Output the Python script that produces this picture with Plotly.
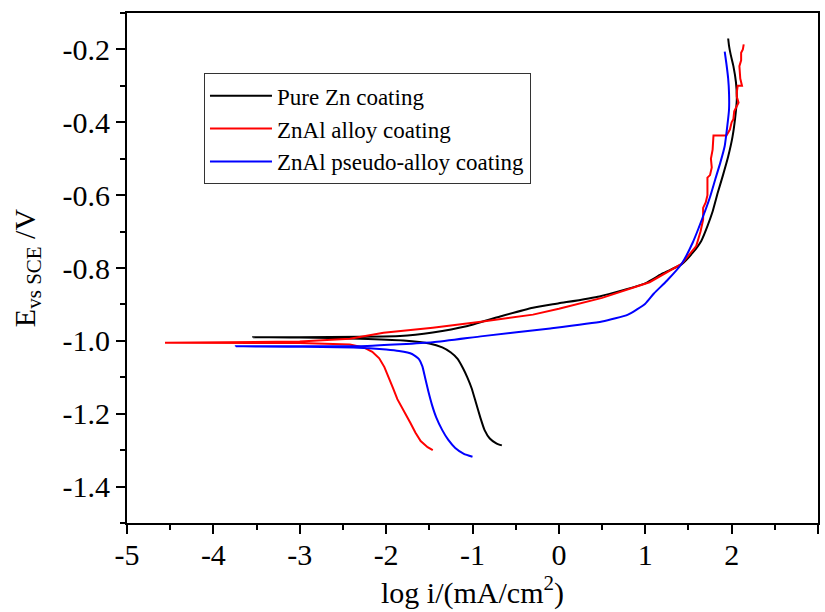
import plotly.graph_objects as go

# ---------------- data ----------------
zn_x = [-0.66, -0.72, -0.80, -0.86, -0.91, -0.96, -1.01, -1.06, -1.11, -1.17, -1.25, -1.35, -1.50, -1.80, -2.30, -3.00, -3.54,
        -3.00, -2.30, -1.84, -1.46, -1.07, -0.68, -0.30, 0.00, 0.47, 1.00, 1.20, 1.42, 1.55, 1.65,
        1.72, 1.78, 1.84, 1.90, 1.96, 2.01, 2.04, 2.06, 2.05, 2.02, 1.99, 1.97, 1.96]
zn_y = [-1.287, -1.282, -1.268, -1.245, -1.210, -1.170, -1.130, -1.100, -1.075, -1.050, -1.032, -1.018, -1.007, -0.999, -0.994, -0.991, -0.990,
        -0.990, -0.989, -0.987, -0.977, -0.960, -0.933, -0.909, -0.897, -0.878, -0.842, -0.815, -0.790, -0.758, -0.725,
        -0.685, -0.645, -0.593, -0.545, -0.494, -0.440, -0.390, -0.337, -0.290, -0.245, -0.215, -0.190, -0.170]

al_x = [-1.46, -1.52, -1.60, -1.66, -1.72, -1.80, -1.87, -1.92, -1.97, -2.02, -2.08, -2.16, -2.26, -2.42, -3.00, -4.56,
        -3.00, -2.42, -2.03, -1.46, -0.88, -0.30, 0.00, 0.50, 1.05, 1.42, 1.59, 1.64, 1.67, 1.67, 1.70, 1.72,
        1.72, 1.75, 1.77, 1.76, 1.78, 1.79, 1.79, 1.94, 1.96, 1.98, 2.00, 2.02, 2.03, 2.04, 2.08, 2.06,
        2.06, 2.07, 2.12, 2.10, 2.09, 2.11, 2.11, 2.13, 2.14]
al_y = [-1.300, -1.292, -1.275, -1.252, -1.225, -1.190, -1.160, -1.130, -1.100, -1.072, -1.048, -1.030, -1.018, -1.010, -1.006, -1.005,
        -1.002, -0.994, -0.978, -0.964, -0.947, -0.928, -0.912, -0.882, -0.839, -0.789, -0.740, -0.700, -0.667, -0.635, -0.620, -0.600,
        -0.552, -0.545, -0.524, -0.500, -0.475, -0.447, -0.436, -0.436, -0.428, -0.420, -0.400, -0.392, -0.370, -0.365, -0.346, -0.330,
        -0.318, -0.300, -0.300, -0.280, -0.246, -0.230, -0.209, -0.200, -0.186]

ps_x = [-1.00, -1.10, -1.20, -1.28, -1.35, -1.42, -1.47, -1.51, -1.55, -1.58, -1.62, -1.70, -1.85, -2.00, -2.38, -3.00, -3.74,
        -3.00, -2.22, -1.46, -0.88, -0.10, 0.50, 0.80, 1.00, 1.10, 1.25, 1.42, 1.55, 1.67, 1.75, 1.81, 1.87, 1.92,
        1.95, 1.97, 1.97, 1.96, 1.94, 1.92]
ps_y = [-1.318, -1.310, -1.294, -1.272, -1.245, -1.210, -1.175, -1.140, -1.100, -1.070, -1.050, -1.036, -1.028, -1.024, -1.018, -1.016, -1.015,
        -1.015, -1.014, -1.004, -0.987, -0.966, -0.947, -0.928, -0.898, -0.870, -0.835, -0.789, -0.730, -0.658, -0.605, -0.557, -0.510, -0.465,
        -0.410, -0.365, -0.320, -0.280, -0.240, -0.206]

series_names = ["Pure Zn coating", "ZnAl alloy coating", "ZnAl pseudo-alloy coating"]
series_colors = ["#000000", "#ff0000", "#0000ff"]
series_shapes = ["spline", "linear", "spline"]

x_tickvals = [-5, -4, -3, -2, -1, 0, 1, 2, 3]
x_ticktext = ["-5", "-4", "-3", "-2", "-1", "0", "1", "2", "3"]
y_tickvals = [-1.4, -1.2, -1.0, -0.8, -0.6, -0.4, -0.2]
y_ticktext = ["-1.4", "-1.2", "-1.0", "-0.8", "-0.6", "-0.4", "-0.2"]

FONT = "Liberation Serif"

fig = go.Figure()
for xs, ys, name, col, shp in zip([zn_x, al_x, ps_x], [zn_y, al_y, ps_y], series_names, series_colors, series_shapes):
    line = dict(color=col, width=2, shape=shp)
    if shp == "spline":
        line["smoothing"] = 0.5
    fig.add_trace(go.Scatter(x=xs, y=ys, mode="lines", name=name, line=line))

axis_common = dict(showgrid=False, zeroline=False, showline=True, linecolor="black", linewidth=2,
                   mirror=True, ticks="outside", ticklen=9, tickwidth=2, tickcolor="black",
                   tickfont=dict(family=FONT, size=30, color="black"), automargin=False)

fig.update_xaxes(range=[-5, 3], tickmode="array", tickvals=x_tickvals, ticktext=x_ticktext,
                 ticklabelstandoff=-5,
                 minor=dict(tickmode="linear", tick0=-5, dtick=0.5, ticklen=5, tickwidth=2, tickcolor="black", ticks="outside"),
                 title=dict(text="log i/(mA/cm<sup>2</sup>)", font=dict(family=FONT, size=30, color="black"), standoff=10),
                 **axis_common)
fig.update_yaxes(range=[-1.5, -0.1], tickmode="array", tickvals=y_tickvals, ticktext=y_ticktext,
                 minor=dict(tickmode="linear", tick0=-1.5, dtick=0.1, ticklen=5, tickwidth=2, tickcolor="black", ticks="outside"),
                 title=dict(text="E<sub>vs SCE</sub> /V", font=dict(family=FONT, size=30, color="black"), standoff=18),
                 **axis_common)

fig.update_layout(
    width=825, height=612,
    margin=dict(l=127, r=7, t=13, b=89),
    plot_bgcolor="white", paper_bgcolor="white",
    font=dict(family=FONT, color="black"),
    showlegend=True,
    legend=dict(x=0.1114, y=0.882, xanchor="left", yanchor="top",
                bordercolor="#333333", borderwidth=1, bgcolor="white",
                font=dict(family=FONT, size=23, color="black"),
                itemwidth=62, tracegroupgap=0),
)

fig.write_html("out.html")
